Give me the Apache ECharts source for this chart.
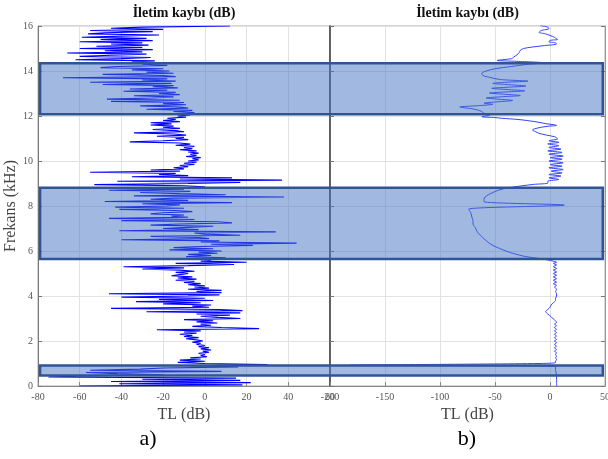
<!DOCTYPE html>
<html><head><meta charset="utf-8">
<script src="https://cdn.jsdelivr.net/npm/echarts@6/dist/echarts.min.js"></script>
<style>html,body{margin:0;padding:0;background:#fff}#c{width:608px;height:459px}</style>
</head><body><div id="c"></div>
<script>
// Panel a): transmission loss (dB), sampled every 0.05 kHz from 16 kHz down to 0 kHz
const tlLeft = [
  12, -30, -45, -20, -55, -25, -48, -56, -22, -40,
  -59, -28, -50, -25, -60, -30, -45, -27, -52, -30,
  -60, -25, -48, -30, -66, -28, -45, -60, -26, -40,
  -62, -24, -35, -22, -30, -18, -42, -50, -20, -35,
  -17, -28, -15, -49, -20, -14, -68, -18, -30, -14,
  -55, -16, -49, -15, -25, -13, -36, -18, -39, -14,
  -22, -12, -34, -15, -25, -47, -12, -45, -10, -20,
  -9, -31, -12, -8, -28, -6, -15, -5, -10, -7,
  -13, -9, -18, -14, -20, -12, -26, -16, -26, -15,
  -20, -12, -25, -14, -10, -34, -15, -9, -23, -10,
  -14, -8, -20, -36, -12, -7, -14, -5, -10, -6,
  -12, -4, -8, -3, -7, -4, -9, -2, -6, -3,
  -8, -4, -10, -5, -12, -8, -15, -10, -26, -12,
  -55, -14, -22, -8, -35, 13, -12, 37, -42, 17,
  -8, -53, -10, 0, -18, -10, -46, -7, -31, -12,
  10, -34, 38, -15, -26, -8, -48, 13, -30, -12,
  -18, -43, -10, -41, -14, -6, -20, -26, -10, -16,
  -8, -46, -5, -40, 6, 13, -12, -26, 4, -8,
  -20, -3, -41, 34, -5, 0, 17, -26, -3, 2,
  -40, 7, -2, 44, 3, 23, -2, -15, 4, -17,
  8, -3, 6, -8, 3, -9, 10, -5, 3, -2,
  20, -14, 14, -8, -39, -10, -30, -12, -5, -14,
  -8, -12, -16, -6, -13, -4, -14, -5, -10, -2,
  -8, 0, -5, 2, -8, 8, -4, 8, -46, 7,
  -8, -40, 0, -22, 4, -33, -2, -20, 3, -6,
  2, -45, 7, 18, -28, 17, -4, 12, -2, 6,
  17, -10, 4, -4, 6, -2, 3, -6, 8, 26,
  -23, -2, -10, -4, -12, -6, -10, -3, -9, -4,
  -1, -6, -2, -4, 0, -3, 2, -2, 3, -1,
  2, -3, 0, -2, 1, -7, -2, -12, 0, -13,
  0, 30, -8, 16, -20, -31, -55, 8, -57, -42,
  -20, -60, -75, 15, -30, 17, -45, 22, -41, 18,
  -60
];
const freqTopLeft = 16;
const freqStepLeft = 0.05;

// Panel b): [frequency kHz, TL dB]
const rightTrace = [
  [16.02,-9],[15.95,-2],[15.88,-1],[15.8,-8],[15.72,-10],[15.65,-4],[15.58,0],[15.5,4],[15.43,6],[15.4,7],
  [15.36,0],[15.3,-1],[15.25,5],[15.2,6],[15.13,-5],[15.06,-17],[15.0,-24],[14.92,-27],[14.82,-28],[14.72,-30],
  [14.62,-33],[14.55,-35],[14.47,-48],[14.43,-30],[14.36,-5],[14.3,-20],[14.2,-35],[14.1,-50],[14.0,-58],[13.9,-62],
  [13.8,-61],[13.72,-55],[13.62,-45],[13.55,-20],[13.5,-40],[13.45,-52],[13.4,-40],[13.33,-22],[13.28,-38],[13.23,-53],
  [13.18,-40],[13.12,-23],[13.07,-40],[13.02,-55],[12.97,-42],[12.91,-27],[12.86,-42],[12.8,-58],[12.75,-48],[12.69,-34],
  [12.63,-48],[12.57,-60],[12.52,-52],[12.46,-65],[12.4,-82],[12.33,-72],[12.27,-66],[12.2,-62],[12.12,-60],[12.04,-55],
  [11.97,-62],[11.93,-50],[11.9,-44],[11.85,-30],[11.8,-21],[11.72,-10],[11.66,-4],[11.61,4],[11.58,6],[11.55,-1],
  [11.5,-8],[11.43,-14],[11.38,-16],[11.3,-13],[11.23,-10],[11.15,-3],[11.08,4],[11.03,6],
  [10.98,7],[10.9,-1],[10.83,8],[10.76,-2],[10.68,8],[10.6,-1],[10.53,10],[10.45,-2],[10.38,11],[10.3,-1],
  [10.22,12],[10.15,0],[10.08,11],[10.0,-1],[9.92,12],[9.84,0],[9.77,11],[9.7,-1],[9.62,12],[9.55,1],
  [9.47,11],[9.4,-1],[9.33,10],[9.25,-1],[9.18,8],[9.1,-2],[9.02,-2],[8.96,-15],[8.88,-28],[8.79,-40],
  [8.7,-47],[8.62,-51],[8.5,-56],[8.4,-59],[8.3,-60],[8.19,-60],[8.04,13],[7.86,-74],[7.7,-72],[7.5,-71],
  [7.35,-70],[7.2,-70],[7.05,-68],[6.93,-67],[6.78,-65],[6.64,-62],[6.5,-59],[6.34,-55],[6.2,-50],[6.12,-46],
  [6.0,-40],[5.9,-34],[5.82,-28],[5.75,-22],[5.67,-10],[5.6,-2],[5.55,3],[5.5,6],[5.45,3],[5.38,6],
  [5.3,3],[5.22,6],[5.15,3],[5.07,6],[5.0,3],[4.92,6],[4.85,3],[4.77,6],[4.7,3],[4.62,6],
  [4.55,3],[4.47,6],[4.4,4],[4.3,6],[4.2,5],[4.1,6],[4.0,6],[3.9,5],[3.8,5],[3.7,3],
  [3.6,1],[3.5,0],[3.4,-2],[3.31,-4],[3.2,-2],[3.08,1],[2.98,3],[2.9,5],[2.82,6],[2.75,4],
  [2.68,6],[2.6,4],[2.52,6],[2.45,4],[2.37,6],[2.3,4],[2.22,6],[2.15,4],[2.07,6],[2.0,4],
  [1.92,6],[1.85,4],[1.77,6],[1.7,4],[1.62,6],[1.55,4],[1.47,6],[1.4,5],[1.32,6],[1.25,5],
  [1.17,6],[1.1,5],[1.04,5],[1.0,-10],[0.92,-182],[0.86,5],[0.7,5],[0.5,6],[0.3,6],[0.0,6]
];

// Highlighted frequency bands (kHz) and their TL extent (left axis start, right axis end)
const bandsKHz = [[12.08, 14.35], [5.64, 8.81], [0.47, 0.91]];
const bandTL = [-79, 48];

const xRangeLeft = [-80, 60, 20];
const xRangeRight = [-200, 50, 50];
const freqRange = [0, 16, 2];

const titleText = 'İletim kaybı (dB)';
const xName = 'TL (dB)';
const yName = 'Frekans (kHz)';
const panelLabels = ['a)', 'b)'];

const FONT = '"Liberation Serif", "Times New Roman", serif';
const leftData = tlLeft.map((v, i) => [v, +(freqTopLeft - i * freqStepLeft).toFixed(2)]);
const rightData = rightTrace.map(p => [p[1], p[0]]);

const gridL = {left: 38, top: 26, width: 292, height: 360};
const gridR = {left: 330, top: 26, width: 275, height: 360};

function xAxisCfg(gi, r) {
  return {
    type: 'value', gridIndex: gi, min: r[0], max: r[1], interval: r[2],
    axisLine: {show: true, onZero: false, lineStyle: {color: '#888', width: 1}},
    axisTick: {show: true, inside: true, length: 4, lineStyle: {color: '#888'}},
    axisLabel: {color: '#555', fontSize: 10, fontFamily: FONT, margin: 6, hideOverlap: false},
    splitLine: {show: true, lineStyle: {color: '#e2e2e2', width: 1}},
    name: xName, nameLocation: 'middle', nameGap: 18,
    nameTextStyle: {fontFamily: FONT, fontSize: 16, color: '#444'}
  };
}
function yAxisCfg(gi, opts) {
  return Object.assign({
    type: 'value', gridIndex: gi, min: freqRange[0], max: freqRange[1], interval: freqRange[2],
    axisLine: {show: true, onZero: false, lineStyle: {color: '#777', width: 1}},
    axisTick: {show: true, inside: true, length: 4, lineStyle: {color: '#777'}},
    axisLabel: {color: '#555', fontSize: 10, fontFamily: FONT, margin: 5},
    splitLine: {show: true, lineStyle: {color: '#e2e2e2', width: 1}}
  }, opts);
}
const gridBase = {show: true, borderColor: '#aaa', borderWidth: 1, backgroundColor: 'transparent',
  containLabel: false, outerBoundsMode: 'none'};

const option = {
  animation: false,
  backgroundColor: '#fff',
  title: [
    {text: titleText, left: gridL.left + gridL.width / 2, top: 6, padding: 0, textAlign: 'center',
     textStyle: {fontFamily: FONT, fontWeight: 'bold', fontSize: 14, color: '#111'}},
    {text: titleText, left: gridR.left + gridR.width / 2, top: 6, padding: 0, textAlign: 'center',
     textStyle: {fontFamily: FONT, fontWeight: 'bold', fontSize: 14, color: '#111'}},
    {text: panelLabels[0], left: 148, top: 428, padding: 0, textAlign: 'center',
     textStyle: {fontFamily: FONT, fontWeight: 'normal', fontSize: 22, color: '#000'}},
    {text: panelLabels[1], left: 467, top: 428, padding: 0, textAlign: 'center',
     textStyle: {fontFamily: FONT, fontWeight: 'normal', fontSize: 22, color: '#000'}}
  ],
  grid: [Object.assign({}, gridBase, gridL), Object.assign({}, gridBase, gridR)],
  xAxis: [xAxisCfg(0, xRangeLeft), xAxisCfg(1, xRangeRight)],
  yAxis: [
    yAxisCfg(0, {name: yName, nameLocation: 'middle', nameGap: 16,
      nameTextStyle: {fontFamily: FONT, fontSize: 16, color: '#444'}}),
    yAxisCfg(1, {axisLabel: {show: false},
      axisLine: {show: true, onZero: false, lineStyle: {color: '#444', width: 1.6}}}),
    yAxisCfg(1, {position: 'right', axisLabel: {show: false}, splitLine: {show: false},
      axisLine: {show: true, onZero: false, lineStyle: {color: '#999', width: 1}}})
  ],
  series: [
    {type: 'line', xAxisIndex: 0, yAxisIndex: 0, data: leftData, showSymbol: false, symbol: 'none',
     lineStyle: {color: '#0000ff', width: 1.2}, clip: true, z: 3},
    {type: 'line', xAxisIndex: 1, yAxisIndex: 1, data: rightData, showSymbol: false, symbol: 'none',
     smooth: 0.3, lineStyle: {color: '#3344ff', width: 1}, clip: true, z: 3}
  ]
};

const chart = echarts.init(document.getElementById('c'), null, {renderer: 'canvas'});
chart.setOption(option);
const rects = bandsKHz.map(([lo, hi]) => {
  const p1 = chart.convertToPixel({xAxisIndex: 0, yAxisIndex: 0}, [bandTL[0], hi]);
  const p2 = chart.convertToPixel({xAxisIndex: 1, yAxisIndex: 1}, [bandTL[1], lo]);
  return {type: 'rect', z: 100,
    shape: {x: p1[0], y: p1[1], width: p2[0] - p1[0], height: p2[1] - p1[1]},
    style: {fill: 'rgba(68,114,196,0.5)', stroke: '#2f5597', lineWidth: 2.5}};
});
chart.setOption({graphic: rects});
</script>
</body></html>
